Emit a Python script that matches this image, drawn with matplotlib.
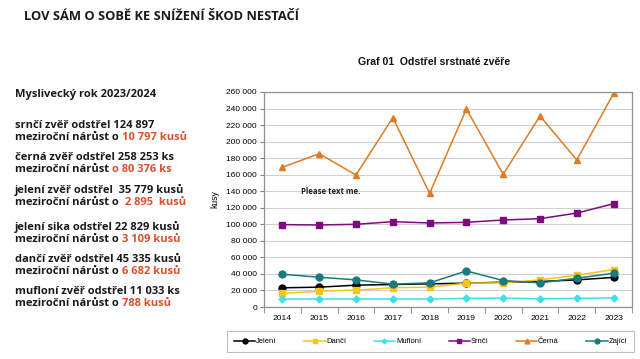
import matplotlib
matplotlib.use("Agg")
import matplotlib.pyplot as plt
from matplotlib.ticker import FuncFormatter, FixedLocator
import numpy as np

years = [2014, 2015, 2016, 2017, 2018, 2019, 2020, 2021, 2022, 2023]
jeleni = [23200, 24000, 26400, 27200, 28000, 28800, 30000, 30800, 32800, 35779]
danci = [16400, 19200, 20400, 23200, 24000, 28800, 29200, 32800, 38400, 45335]
mufloni = [9600, 9600, 9600, 9600, 9600, 10400, 10800, 10000, 10400, 11033]
srnci = [99600, 99200, 100000, 103200, 101600, 102400, 105200, 106800, 113600, 124897]
cerna = [169000, 185400, 159600, 229000, 137500, 239500, 160500, 231000, 177800, 258253]
zajici = [39600, 36000, 32800, 27600, 29200, 43600, 32000, 29200, 34800, 40800]

series = [
    ("Jelení", jeleni, "#000000", "o"),
    ("Dančí", danci, "#F5C518", "s"),
    ("Mufloní", mufloni, "#3FE0E8", "D"),
    ("Srnčí", srnci, "#7E0A80", "s"),
    ("Černá", cerna, "#E07B22", "^"),
    ("Zajíci", zajici, "#1A7A7C", "o"),
]

left_lines = [
    ("Myslivecký rok 2023/2024", None, 95),
    ("srnčí zvěř odstřel 124 897", None, 126),
    ("meziroční nárůst o ", "10 797 kusů", 138),
    ("černá zvěř odstřel 258 253 ks", None, 158),
    ("meziroční nárůst ", "o 80 376 ks", 170),
    ("jelení zvěř odstřel  35 779 kusů", None, 190),
    ("meziroční nárůst o ", " 2 895  kusů", 202),
    ("jelení sika odstřel 22 829 kusů", None, 227),
    ("meziroční nárůst o ", "3 109 kusů", 239),
    ("dančí zvěř odstřel 45 335 kusů", None, 259),
    ("meziroční nárůst o ", "6 682 kusů", 271),
    ("mufloní zvěř odstřel 11 033 ks", None, 292),
    ("meziroční nárůst o ", "788 kusů", 304),
]

W, H = 640, 359
fig = plt.figure(figsize=(6.4, 3.59), dpi=100)
fig.patch.set_facecolor("white")

fig.text(24 / W, 1 - 16 / H, "LOV SÁM O SOBĚ KE SNÍŽENÍ ŠKOD NESTAČÍ",
         family="Open Sans", weight="bold", fontsize=9.3, color="#1a1a1a",
         va="center", ha="left")

red = "#D9512C"
fig.canvas.draw()
for black, redpart, y in left_lines:
    t = fig.text(15 / W, 1 - y / H, black, family="Open Sans", weight="bold",
                 fontsize=8.0, color="#1a1a1a", va="center", ha="left")
    if redpart:
        bb = t.get_window_extent(renderer=fig.canvas.get_renderer())
        fig.text(bb.x1 / W, 1 - y / H, redpart, family="Open Sans", weight="bold",
                 fontsize=8.0, color=red, va="center", ha="left")

fig.text(434 / W, 1 - 62 / H, "Graf 01  Odstřel srstnaté zvěře",
         family="Liberation Sans", weight="bold", fontsize=7.6, color="#111111",
         va="center", ha="center")

ax = fig.add_axes([264 / W, 1 - 307 / H, (632 - 264) / W, (307 - 92) / H])
x = np.arange(len(years))
for name, vals, col, mk in series:
    ms = 5 if mk != "D" else 3.5
    ax.plot(x, vals, color=col, marker=mk, markersize=ms, linewidth=1.1,
            label=name, markeredgecolor=col)

ax.set_xlim(-0.5, len(years) - 0.5)
ax.set_ylim(0, 260000)
ax.yaxis.set_major_locator(FixedLocator(np.arange(0, 260001, 20000)))
ax.yaxis.set_major_formatter(FuncFormatter(lambda v, p: f"{int(v):,}".replace(",", " ")))
ax.set_xticks(x)
ax.set_xticklabels([str(y) for y in years])
ax.set_xticks(np.arange(-0.5, len(years), 1), minor=True)
ax.tick_params(axis="x", which="major", length=0, pad=6, labelsize=6.1)
ax.tick_params(axis="x", which="minor", length=4, color="#808080")
ax.tick_params(axis="y", length=3, color="#808080", labelsize=6.0, pad=2)
for lab in ax.get_xticklabels() + ax.get_yticklabels():
    lab.set_family("Liberation Sans")
ax.grid(axis="y", color="#d0d0d0", linewidth=0.8)
ax.set_axisbelow(True)
for s in ax.spines.values():
    s.set_color("#909090")
    s.set_linewidth(0.9)
ax.set_ylabel("kusy", family="Liberation Sans", fontsize=6.2, labelpad=5)

ax.text(301 / W, 1 - 191 / H, "Please text me.", transform=fig.transFigure,
        family="Open Sans", weight="bold", fontsize=5.6, color="#222222",
        va="center", ha="left")

leg = fig.legend(loc="center", bbox_to_anchor=(430.5 / W, 1 - 341.5 / H),
                 ncol=6, prop={"family": "Liberation Sans", "size": 5.5},
                 frameon=True, fancybox=False, edgecolor="#b0b0b0",
                 handlelength=2.8, columnspacing=3.6, handletextpad=0.1,
                 markerscale=0.7, borderpad=0.9)
leg.get_frame().set_linewidth(0.8)

fig.savefig("out.png", dpi=100, facecolor="white")
